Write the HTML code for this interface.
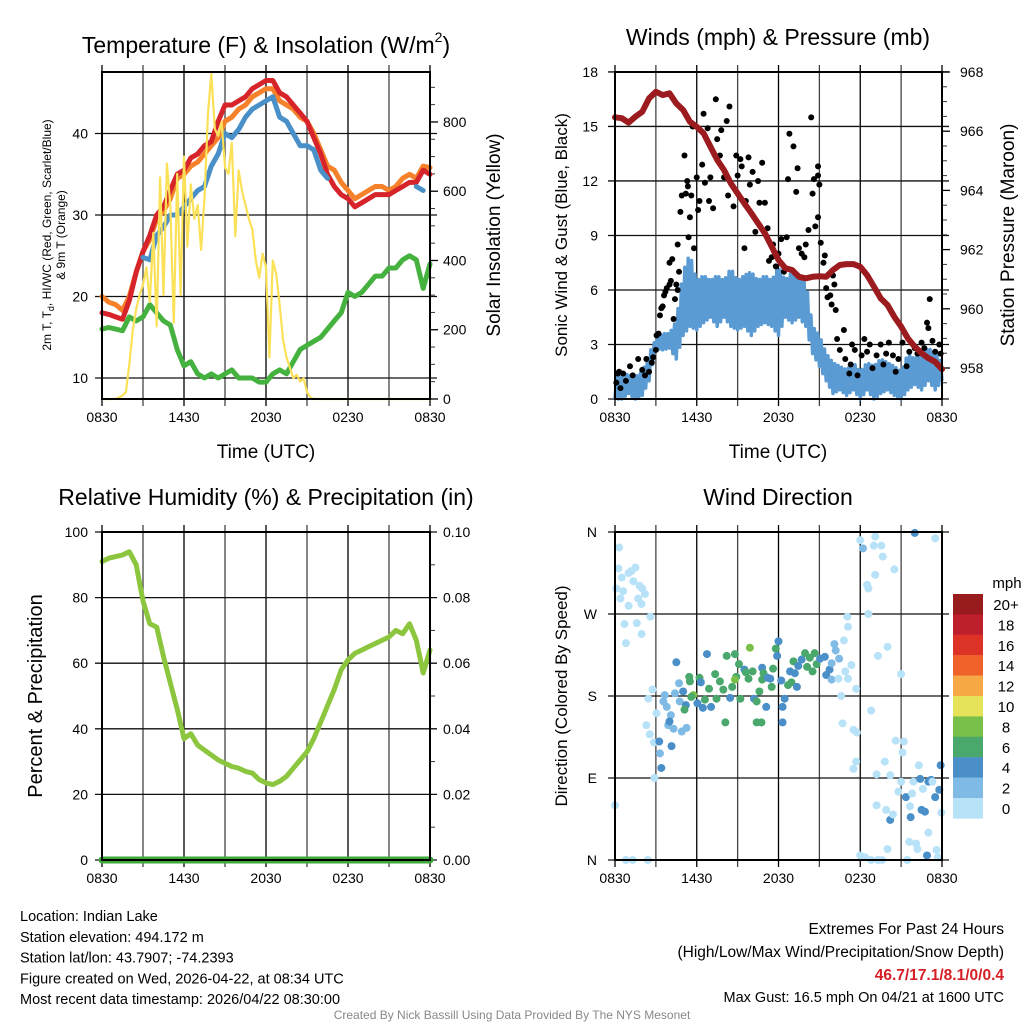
<!DOCTYPE html>
<html><head><meta charset="utf-8"><style>
html,body{margin:0;padding:0;background:#fff;}
svg{display:block;font-family:"Liberation Sans",Arial,sans-serif;}
</style></head><body>
<svg id="c" width="1024" height="1024" viewBox="0 0 1024 1024" xmlns="http://www.w3.org/2000/svg"></svg>
<script>
// ---------- DATA ----------
const timeTicks=["0830","1430","2030","0230","0830"];
// half-hourly (0..24h from 0830 UTC)
const tempRed=[18,17.8,17.5,17.2,19.5,23,25.5,27.5,30,31,33,35,35.5,37,37.5,38.5,39,41.5,43.5,43.5,44,44.5,45.5,46,46.5,46.5,45,44.5,43.5,42.5,41.5,39.5,37.5,35,33.5,32.5,32,31,31.5,32,32.5,32.5,32.5,33,33.5,34,34,35.5,35];
const tempOrange=[20,19.3,19,18.3,20,23,25.5,27,29.5,30.5,32,34.5,35,36,36.5,37.5,38.5,39.5,41.5,42,43,43.5,44.5,45,45.5,45.5,44,43.5,43,42,41.5,40,38,36,35.5,34,33,32,32.5,33,33.5,33.5,33,33.5,34.5,35,34.5,36,35.8];
const tempBlue=[null,null,null,null,null,null,24.8,24.5,27.5,28.5,30,30,31,32,33,33.5,36,37.5,40,39.5,40.5,42,43,43.5,44,44.5,42,41.5,40,38.5,38.5,38,35.5,34.5,null,null,null,null,null,null,null,null,null,null,null,null,33.5,33,null];
const dewGreen=[16,16.2,16,15.8,17.5,17,17.5,19,18,17,16.5,13.5,11.5,12,10.5,10,10.5,10,10.5,11,10,10,10,9.5,9.5,10.5,11,10.5,12,13.5,14,14.5,15,16,17,18,20.5,20,20.5,21.5,22.5,22.5,23.5,23.5,24.5,25,24.5,21,24];
// quarter-hourly solar W/m2
const solar=[0,0,0,0,0,5,10,20,100,200,260,300,330,380,280,480,210,640,300,680,560,220,650,300,700,440,620,520,560,430,580,820,940,780,760,800,670,650,740,470,660,600,560,520,490,400,350,420,380,120,400,360,270,170,120,90,60,70,50,60,20,5,0,0,0,0,0,0,0,0,0,0,0,0,0,0,0,0,0,0,0,0,0,0,0,0,0,0,0,0,0,0,0,0,0,0,0];
const pressure=[966.47,966.44,966.29,966.49,966.66,967.11,967.33,967.22,967.28,966.94,966.72,966.32,966.15,965.93,965.48,965.03,964.69,964.24,963.9,963.56,963.23,962.89,962.55,962.1,961.65,961.37,961.31,961.08,961.03,961.08,961.1,961.08,961.31,961.48,961.51,961.51,961.42,961.14,960.75,960.35,960.13,959.73,959.4,959.0,958.72,958.5,958.33,958.21,957.96];
const windLo=[0,0,0.3,0,0.2,1.0,2.8,2.7,2.8,2.2,3.5,4.0,3.8,4.2,4.5,4.0,4.5,4.0,3.8,4.0,3.5,4.0,4.2,4.0,3.5,4.5,4.2,4.5,4.0,2.5,1.8,1.0,0.3,0.5,0.2,0.5,0,0.5,0,0.3,0.5,0.2,0,0.5,0.8,0.5,1.0,0.5,1.0];
const windHi=[1.2,1.5,1.3,1.2,1.5,2.5,3.3,3.6,3.6,4.3,7.0,8.0,6.5,6.8,6.5,6.8,6.5,7.2,6.5,6.8,7.0,6.5,6.8,6.5,7.3,6.5,7.0,6.8,6.5,4.0,3.5,2.5,2.0,1.8,1.6,2.0,1.5,2.0,1.8,2.2,2.0,1.8,1.5,2.5,2.2,2.5,2.8,2.5,2.0];
const gustT=[0.1,0.2,0.3,0.4,0.6,0.8,1.1,1.3,1.7,2.0,2.2,2.3,2.5,2.7,2.8,3.0,3.05,3.2,3.3,3.4,3.5,3.6,3.7,3.8,4.0,4.0,4.1,4.2,4.3,4.4,4.5,4.6,4.6,4.7,4.8,4.9,5.1,5.2,5.3,5.35,5.4,5.5,5.6,5.7,5.8,6.0,6.1,6.2,6.4,6.5,6.6,6.8,6.9,7.0,7.2,7.4,7.5,7.7,7.8,8.0,8.2,8.4,8.3,8.7,8.9,9.0,9.2,9.3,9.5,9.6,9.8,9.9,10.1,10.3,10.5,10.6,10.8,11.0,11.2,11.3,11.5,11.6,11.8,12.0,12.2,12.4,12.6,12.7,12.8,13.1,13.3,13.4,13.5,13.7,13.9,14.0,14.2,14.4,14.6,14.5,14.7,14.9,14.9,15.0,14.9,15.1,15.3,15.4,15.5,15.6,15.8,15.9,16.0,16.1,16.2,16.3,16.5,16.8,16.9,17.2,17.3,17.4,17.6,17.8,18.1,18.3,18.5,18.7,18.9,19.2,19.5,19.7,19.9,20.1,20.4,20.6,20.8,21.1,21.4,21.6,22.0,22.2,22.5,22.7,22.9,23.0,23.1,23.3,23.5,23.8,23.9];
const gustV=[0.9,1.4,1.5,0.6,1.4,1.0,1.8,1.3,2.2,1.6,1.3,2.2,1.5,2.0,2.3,2.7,3.5,3.6,4.6,5.0,5.1,5.7,5.9,6.1,7.5,6.3,6.5,7.7,4.4,5.5,6.3,6.0,8.5,7.0,10.3,11.2,13.4,11.3,12.0,11.7,8.9,10.0,11.2,15.0,8.3,12.2,10.4,10.9,12.9,15.7,11.9,14.9,10.9,12.2,10.5,16.5,14.3,13.4,14.8,12.2,15.3,16.1,11.2,10.6,13.4,12.3,13.2,12.8,8.3,10.9,13.3,11.8,12.5,9.2,12.0,10.8,13.0,10.8,9.4,7.6,7.8,8.5,7.3,8.0,8.8,7.0,8.9,12.1,14.6,13.9,11.4,12.7,8.3,8.0,7.8,8.5,9.3,15.5,12.1,11.3,9.5,12.3,12.8,11.8,10.0,8.6,7.5,7.9,6.1,5.6,5.7,5.2,6.8,6.3,4.9,3.3,2.7,3.8,2.2,1.4,1.9,3.0,2.7,1.3,2.4,3.3,2.6,3.0,1.7,2.4,3.0,1.9,2.5,3.1,2.4,1.5,2.2,3.1,1.8,2.6,2.8,2.5,3.1,2.8,4.2,3.9,5.5,3.2,2.6,3.0,2.5];
const rh=[91,92,92.5,93,94,90,79,72,71,62,54,46,37,38.5,35,33.5,32,30.5,29.5,28.5,28,27,26.5,24.5,23.5,23,24,25.5,28,30.5,33,37,42,47,52,58,61,63,64,65,66,67,68,70,69,72,67,57,64];
const precip=[0,0,0,0,0,0,0,0,0,0,0,0,0,0,0,0,0,0,0,0,0,0,0,0,0,0,0,0,0,0,0,0,0,0,0,0,0,0,0,0,0,0,0,0,0,0,0,0,0];
const dirT=[0.3,0.25,0.5,1.0,1.2,1.5,1.35,0.1,0.6,0.4,1.0,1.8,2.0,2.2,1.7,1.95,2.6,0.7,1.6,1.95,0.8,0,0.8,1.3,2.4,2.75,2.45,2.3,2.55,2.85,2.9,3.05,3.4,3.3,3.25,3.55,3.65,3.8,3.9,4.1,4.0,4.15,4.3,4.5,4.4,4.7,4.75,4.9,5.2,5.25,5.0,5.1,5.45,5.5,5.75,5.6,6.05,6.2,6.3,6.45,6.6,6.75,6.9,7.05,7.35,7.45,7.7,7.95,8.1,8.2,8.45,8.8,8.9,8.6,9.1,8.8,9.2,9.5,9.6,9.9,9.8,10.1,10.2,10.4,10.4,10.6,10.75,10.8,10.8,10.9,11.1,11.2,11.4,11.5,11.6,11.8,11.9,12.0,12.2,12.3,12.3,12.45,12.7,12.85,12.95,13.1,13.2,13.35,13.45,13.7,13.95,14.1,14.3,14.5,14.65,14.8,15.05,15.4,15.5,15.75,15.9,16.1,16.2,15.9,16.45,16.4,16.9,17.1,17.35,16.8,17.05,17.1,16.6,17.7,16.7,17.5,17.75,17.7,17.5,18.0,18.35,18.8,19.3,19.6,20.0,18.8,19.2,19.2,19.8,20.2,19.9,20.2,20.4,20.6,21.0,19.3,20.0,18.6,18.6,18.5,19.1,19.65,19.55,19.0,19.1,18.2,18.0,20.5,22.0,23.5,21.2,21.1,20.8,21.0,21.35,21.65,21.8,21.9,22.3,22.4,22.6,22.5,22.75,21.7,23.0,23.2,23.3,23.5,23.8,23.9,23.95,23.0,22.1,21.6,22.2,22.9,23.6,23.7,21.45];
const dirDeg=[343,320,310,315,317,321,306,298,295,287,279,301,298,292,287,281,267,259,260,248,238,60,0,0,0,187,177,148,138,129,90,161,101,117,130,174,181,168,148,159,152,125,144,217,183,194,174,141,170,145,185,165,201,196,181,179,172,200,195,167,176,226,188,168,204,177,196,187,151,224,178,226,201,190,215,198,177,209,206,233,199,207,177,174,151,185,151,211,198,205,168,200,199,190,210,232,224,240,197,168,151,177,192,207,195,218,205,190,213,220,227,212,222,207,227,215,221,223,203,209,216,237,230,198,221,199,207,199,214,241,267,256,180,188,150,143,140,108,100,5,3,0,0,0,12,164,60,94,108,93,55,44,50,131,204,224,234,270,298,302,313,333,345,345,355,342,351,319,359,353,130,118,75,86,69,59,73,86,104,89,78,55,53,47,86,88,86,69,77,104,52,30,18,20,12,5,11,3,0];
const dirCat=[0,0,0,0,0,0,0,0,0,0,0,0,0,0,0,0,0,0,0,0,0,0,0,0,0,0,0,0,0,0,0,0,2,1,2,1,1,1,1,1,2,2,1,2,1,1,1,1,2,1,2,3,3,3,4,3,2,3,2,2,3,2,3,2,3,3,3,3,3,3,2,3,3,3,3,4,3,2,3,4,3,3,2,3,3,3,3,2,3,3,2,2,2,3,3,3,2,2,2,2,2,2,3,2,3,3,2,2,2,2,3,3,3,3,3,3,2,2,2,2,1,1,1,1,1,0,0,0,0,0,0,0,0,0,0,0,0,0,0,0,0,0,0,0,0,0,0,0,0,0,0,2,0,0,0,0,0,0,0,0,0,0,0,0,0,1,0,0,2,0,0,0,0,0,2,0,0,0,0,2,0,2,2,2,2,2,0,2,2,2,0,0,0,0,0,2,0,0,0,0,0,0];
const speedLabels=["20+","18","16","14","12","10","8","6","4","2","0"];
const speedColors=["#981b1e","#bf1e2d","#dd3327","#ef6129","#f6a844","#e6e35a","#79c04a","#4aa86d","#4a8fc8","#7fbbe5","#b8e2f8"];
const catColors=["#b8e2f8","#7fbbe5","#4a8fc8","#4aa86d","#79c04a"];

// ---------- DRAW ----------
const NS="http://www.w3.org/2000/svg";
const svg=document.getElementById('c');
function mk(tag,attrs,parent){const e=document.createElementNS(NS,tag);for(const k in attrs)e.setAttribute(k,attrs[k]);(parent||svg).appendChild(e);return e;}
function txt(s,x,y,size,anchor,extra){const t=mk('text',Object.assign({x:x,y:y,'font-size':size,'text-anchor':anchor||'middle',fill:'#000'},extra||{}));t.textContent=s;return t;}

function panel(name,x0,y0,x1,y1){
  const g=mk('g',{});
  
  
  return {g,x0,y0,x1,y1,sx:h=>x0+h/24*(x1-x0)};
}
function vgrid(P){
  for(let i=0;i<=8;i++){const x=P.sx(i*3);
    const l=mk('line',{x1:x,y1:P.y0-7,x2:x,y2:P.y1+7,stroke:i%2?'#444':'#000','stroke-width':1.3},P.g);
    }
  timeTicks.forEach((s,i)=>{const t=txt(s,P.sx(i*6),P.y1+23,14);
    });
}
function hline(P,y,ext){const l=mk('line',{x1:P.x0-(ext?7:0),y1:y,x2:P.x1+7,y2:y,stroke:'#111','stroke-width':1.3},P.g);
  }
function frame(P){const r=mk('rect',{x:P.x0,y:P.y0,width:P.x1-P.x0,height:P.y1-P.y0,fill:'none',stroke:'#000','stroke-width':2},P.g);
  }
function minorRight(P,vals,fy){vals.forEach(v=>{const y=fy(v);const l=mk('line',{x1:P.x1,y1:y,x2:P.x1+5,y2:y,stroke:'#333','stroke-width':1},P.g);});}
function series(P,arr,step,fy,color,w,name){
  let d='';let pen=false;
  arr.forEach((v,i)=>{if(v===null){pen=false;return;}const x=P.sx(i*step),y=fy(v);d+=(pen?'L':'M')+x.toFixed(1)+' '+y.toFixed(1);pen=true;});
  const p=mk('path',{d:d,fill:'none',stroke:color,'stroke-width':w,'stroke-linejoin':'round','stroke-linecap':'round'},P.g);
  
}

// Panel 1: Temperature
const P1=panel('temperature-panel',102,72,430,399);
const t1=v=>378-(v-10)*8.15;
const s1=v=>399-v*0.3463;
(function(){const t=mk('text',{x:266,y:53,'font-size':23,'text-anchor':'middle'});
 
 t.innerHTML='Temperature (F) &amp; Insolation (W/m<tspan font-size="14" dy="-11">2</tspan><tspan dy="11">)</tspan>';})();
vgrid(P1);
[10,20,30,40].forEach(v=>{hline(P1,t1(v),true);const t=txt(String(v),88,t1(v)+5,14,'end');});
[0,200,400,600,800].forEach(v=>{const y=s1(v);mk('line',{x1:P1.x1,y1:y,x2:P1.x1+8,y2:y,stroke:'#000','stroke-width':1.3},P1.g);const t=txt(String(v),443,y+5,14,'start');});
minorRight(P1,[50,100,150,250,300,350,450,500,550,650,700,750,850,900],s1);
series(P1,dewGreen,0.5,t1,'#45b23f',5,'dewpoint-line');
series(P1,tempOrange,0.5,t1,'#f5812a',5,'temp-9m-line');
series(P1,tempRed,0.5,t1,'#d6242a',5,'temp-2m-line');
series(P1,tempBlue,0.5,t1,'#4a90c8',5,'windchill-line');
series(P1,solar,0.25,s1,'#fbe158',2.2,'solar-line');
frame(P1);
txt('Time (UTC)',266,458,19);
(function(){const t=mk('text',{transform:'translate(51,235) rotate(-90)','font-size':12,'text-anchor':'middle'});
 
 t.innerHTML='2m T, T<tspan font-size="9" dy="3">d</tspan><tspan dy="-3">, HI/WC (Red, Green, Scarlet/Blue)</tspan>';
 const t2=txt('& 9m T (Orange)',0,0,12,'middle',{transform:'translate(65,235) rotate(-90)'});})();
txt('Solar Insolation (Yellow)',0,0,19,'middle',{transform:'translate(500,235) rotate(-90)'});

// Panel 2: Winds
const P2=panel('winds-panel',615,72,942,399);
const w2=v=>399-v*18.17;
const p2=v=>72+(968-v)*29.6;
txt('Winds (mph) & Pressure (mb)',778,45,23);
vgrid(P2);
[0,3,6,9,12,15,18].forEach(v=>{hline(P2,w2(v),true);const t=txt(String(v),598,w2(v)+5,14,'end');});
[958,960,962,964,966,968].forEach(v=>{const y=p2(v);mk('line',{x1:P2.x1,y1:y,x2:P2.x1+8,y2:y,stroke:'#000','stroke-width':1.3},P2.g);const t=txt(String(v),960,y+5,14,'start');});
minorRight(P2,[957.5,958.5,959,959.5,960.5,961,961.5,962.5,963,963.5,964.5,965,965.5,966.5,967,967.5],p2);
(function(){let d='';const N=4;for(let i=0;i<windLo.length;i++){for(let k=0;k<N;k++){const h=i*0.5+k*0.125;if(h>24)break;const ni=Math.min(i+1,windLo.length-1),f=k/N;const lo=windLo[i]*(1-f)+windLo[ni]*f,hi=windHi[i]*(1-f)+windHi[ni]*f;const v=k%2?hi:lo;d+=(d?'L':'M')+P2.sx(h).toFixed(1)+' '+w2(v).toFixed(1);}}
 const p=mk('path',{d:d,fill:'none',stroke:'#5b9bd3','stroke-width':3.5,'stroke-linejoin':'round'},P2.g);})();
gustT.forEach((h,i)=>{const c=mk('circle',{cx:P2.sx(h),cy:w2(gustV[i]),r:3,fill:'#000'},P2.g);});
series(P2,pressure,0.5,p2,'#9b1b1e',6,'pressure-line');
frame(P2);
txt('Time (UTC)',778,458,19);
txt('Sonic Wind & Gust (Blue, Black)',0,0,17,'middle',{transform:'translate(567,235) rotate(-90)'});
txt('Station Pressure (Maroon)',0,0,19,'middle',{transform:'translate(1014,235) rotate(-90)'});

// Panel 3: RH
const P3=panel('humidity-panel',102,532,430,860);
const r3=v=>860-v*3.28;
const q3=v=>860-v*3280;
txt('Relative Humidity (%) & Precipitation (in)',266,505,23);
vgrid(P3);
[0,20,40,60,80,100].forEach(v=>{hline(P3,r3(v),true);const t=txt(String(v),88,r3(v)+5,14,'end');});
["0.00","0.02","0.04","0.06","0.08","0.10"].forEach(s=>{const y=q3(+s);const t=txt(s,443,y+5,14,'start');});
minorRight(P3,[0.01,0.03,0.05,0.07,0.09],q3);
series(P3,rh,0.5,r3,'#8cc63f',5,'rh-line');
series(P3,precip,0.5,q3,'#3ea83a',7,'precip-line');
frame(P3);
txt('Percent & Precipitation',0,0,20,'middle',{transform:'translate(42,696) rotate(-90)'});

// Panel 4: Wind Direction
const P4=panel('wind-direction-panel',615,532,942,860);
const d4=v=>860-v/360*328;
txt('Wind Direction',778,505,23);
vgrid(P4);
[["N",0],["E",90],["S",180],["W",270],["N",360]].forEach(([s,v])=>{hline(P4,d4(v),true);const t=txt(s,597,d4(v)+5,14,'end');});
dirT.forEach((h,i)=>{const c=mk('circle',{cx:P4.sx(h),cy:d4(dirDeg[i]),r:4,fill:catColors[dirCat[i]]},P4.g);});
frame(P4);
txt('Direction (Colored By Speed)',0,0,17,'middle',{transform:'translate(567,696) rotate(-90)'});
txt('mph',1007,588,15,'middle');
speedLabels.forEach((s,i)=>{const y=594+i*20.4;const r=mk('rect',{x:953,y:y,width:30,height:20.6,fill:speedColors[i]});
 const t=txt(s,1006,y+16,15,'middle');});

// Footer text
const info=["Location: Indian Lake","Station elevation: 494.172 m","Station lat/lon: 43.7907; -74.2393","Figure created on Wed, 2026-04-22, at 08:34 UTC","Most recent data timestamp: 2026/04/22 08:30:00"];
info.forEach((s,i)=>{const t=txt(s,20,921+i*20.8,14.5,'start');});
txt('Extremes For Past 24 Hours',1004,934,15.5,'end');
txt('(High/Low/Max Wind/Precipitation/Snow Depth)',1004,957,15.5,'end');
txt('46.7/17.1/8.1/0/0.4',1004,980,15.5,'end',{fill:'#d41f26','font-weight':'bold'});
txt('Max Gust: 16.5 mph On 04/21 at 1600 UTC',1004,1002,14.5,'end');
txt('Created By Nick Bassill Using Data Provided By The NYS Mesonet',512,1019,12,'middle',{fill:'#888'});
</script>
</body></html>
